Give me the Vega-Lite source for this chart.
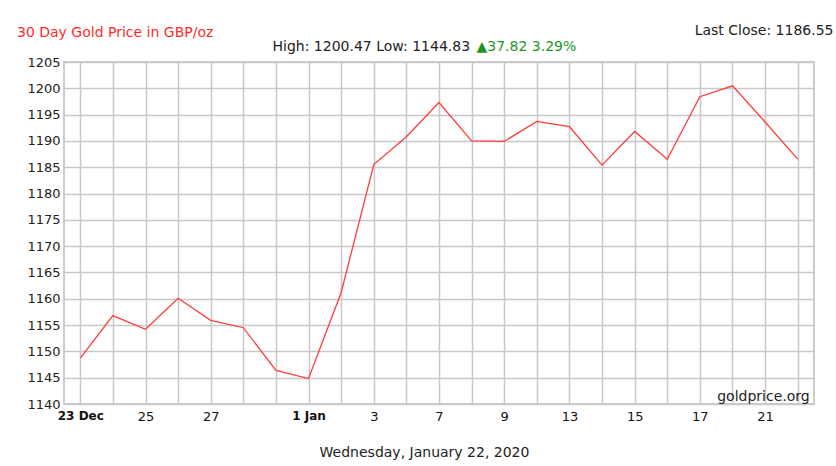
{
  "$schema": "https://vega.github.io/schema/vega-lite/v6.json",
  "width": 750,
  "height": 342,
  "autosize": {"type": "none"},
  "padding": {"left": 64, "top": 62, "right": 22, "bottom": 62},
  "background": "white",
  "config": {"font": "DejaVu Sans", "view": {"stroke": "#bdbdbd", "strokeWidth": 1.5}},
  "title": {"text": "30 Day Gold Price in GBP/oz", "anchor": "start", "frame": "group", "dx": -47, "offset": -28, "baseline": "alphabetic", "color": "#ff2a2a", "fontSize": 14, "fontWeight": "normal"},
  "datasets": {
    "gold": [
      {"date": "2019-12-23", "price": 1148.73},
      {"date": "2019-12-24", "price": 1156.8},
      {"date": "2019-12-25", "price": 1154.2},
      {"date": "2019-12-26", "price": 1160.1},
      {"date": "2019-12-27", "price": 1155.9},
      {"date": "2019-12-30", "price": 1154.5},
      {"date": "2019-12-31", "price": 1146.4},
      {"date": "2020-01-01", "price": 1144.83},
      {"date": "2020-01-02", "price": 1161.2},
      {"date": "2020-01-03", "price": 1185.5},
      {"date": "2020-01-06", "price": 1190.8},
      {"date": "2020-01-07", "price": 1197.3},
      {"date": "2020-01-08", "price": 1190.0},
      {"date": "2020-01-09", "price": 1189.9},
      {"date": "2020-01-10", "price": 1193.7},
      {"date": "2020-01-13", "price": 1192.7},
      {"date": "2020-01-14", "price": 1185.4},
      {"date": "2020-01-15", "price": 1191.8},
      {"date": "2020-01-16", "price": 1186.5},
      {"date": "2020-01-17", "price": 1198.4},
      {"date": "2020-01-20", "price": 1200.47},
      {"date": "2020-01-21", "price": 1193.6},
      {"date": "2020-01-22", "price": 1186.55}
    ]
  },
  "layer": [
    {
      "data": {"name": "gold"},
      "mark": {"type": "line", "color": "#ff3b3b", "strokeWidth": 1.3},
      "encoding": {
        "x": {
          "field": "date", "type": "ordinal",
          "scale": {"type": "point", "padding": 0.5},
          "axis": {
            "orient": "bottom",
            "title": "Wednesday, January 22, 2020",
            "titleFontWeight": "normal", "titleFontSize": 14, "titleColor": "#222222",
            "titleX": 360, "titleY": 52, "titleAlign": "center", "titleBaseline": "alphabetic", "titleAnchor": null,
            "labelAngle": 0, "labelColor": "#111111", "labelPadding": 6,
            "labelOverlap": false, "labelFlush": false,
            "labelExpr": "indexof(['2019-12-23','2019-12-25','2019-12-27','2020-01-01','2020-01-03','2020-01-07','2020-01-09','2020-01-13','2020-01-15','2020-01-17','2020-01-21'], datum.value) >= 0 ? (datum.value == '2019-12-23' ? '23 Dec' : datum.value == '2020-01-01' ? '1 Jan' : '' + parseInt(substring(datum.value, 8, 10))) : ''",
            "labelFontWeight": {"condition": {"test": "datum.value == '2019-12-23' || datum.value == '2020-01-01'", "value": "bold"}, "value": "normal"},
            "labelFontSize": {"condition": {"test": "datum.value == '2019-12-23' || datum.value == '2020-01-01'", "value": 12}, "value": 13},
            "ticks": false, "domain": false,
            "grid": true, "gridColor": "#c8c8c8", "gridWidth": 1.5
          }
        },
        "y": {
          "field": "price", "type": "quantitative",
          "scale": {"domain": [1140, 1205], "zero": false, "nice": false},
          "axis": {
            "orient": "left", "format": "d",
            "values": [1140, 1145, 1150, 1155, 1160, 1165, 1170, 1175, 1180, 1185, 1190, 1195, 1200, 1205],
            "labelFontSize": 13, "labelColor": "#222222", "labelPadding": 4,
            "ticks": false, "domain": false,
            "grid": true, "gridColor": "#c8c8c8", "gridWidth": 1.5,
            "title": "Last Close: 1186.55", "titleAngle": 0, "titleAlign": "right", "titleBaseline": "alphabetic",
            "titleX": 769, "titleY": -28, "titleFontWeight": "normal", "titleFontSize": 14, "titleColor": "#222222"
          }
        }
      }
    },
    {
      "data": {"values": [{}]},
      "mark": {"type": "text", "text": "goldprice.org", "align": "right", "baseline": "alphabetic", "dx": 12, "dy": -3, "fontSize": 14, "color": "#222222"},
      "encoding": {
        "x": {
          "datum": "2020-01-22", "type": "ordinal",
          "axis": {
            "orient": "top", "labels": false, "ticks": false, "domain": false, "grid": false,
            "title": "High: 1200.47 Low: 1144.83", "titleAlign": "left", "titleBaseline": "alphabetic",
            "titleX": 208, "titleY": -12, "titleFontWeight": "normal", "titleFontSize": 14, "titleColor": "#222222"
          }
        },
        "y": {
          "datum": 1140, "type": "quantitative",
          "axis": {
            "orient": "right", "labels": false, "ticks": false, "domain": false, "grid": false,
            "title": "▲37.82 3.29%", "titleAngle": 0, "titleAlign": "left", "titleBaseline": "alphabetic",
            "titleX": -338, "titleY": -12, "titleFontWeight": "normal", "titleFontSize": 14, "titleColor": "#1e961e"
          }
        }
      }
    }
  ],
  "resolve": {"axis": {"x": "independent", "y": "independent"}}
}
